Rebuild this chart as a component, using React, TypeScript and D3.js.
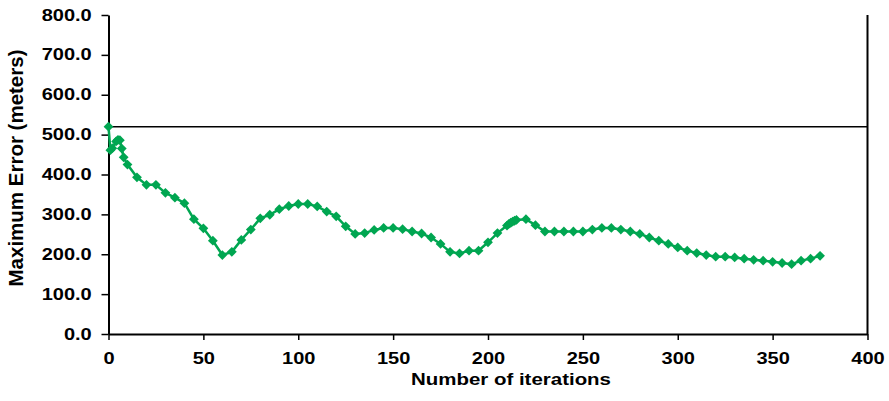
import React, { useRef, useEffect } from "react";
import {
  select,
  line,
  scaleLinear,
  axisLeft,
  axisBottom,
  symbol,
  symbolSquare
} from "d3";

// values
const iterations = [
  0, 1, 2, 4, 5, 6, 7, 8, 10, 15, 20, 25, 30, 35, 40, 45, 50, 55, 60, 65, 70,
  75, 80, 85, 90, 95, 100, 105, 110, 115, 120, 125, 130, 135, 140, 145, 150,
  155, 160, 165, 170, 175, 180, 185, 190, 195, 200, 205, 210, 211, 212, 213,
  214, 215, 220, 225, 230, 235, 240, 245, 250, 255, 260, 265, 270, 275, 280,
  285, 290, 295, 300, 305, 310, 315, 320, 325, 330, 335, 340, 345, 350, 355,
  360, 365, 370, 375
];
const maxError = [
  520, 461, 466, 483, 487, 486, 465, 443, 425, 393, 374, 374, 354, 342, 328,
  288, 265, 234, 198, 206, 236, 262, 290, 299, 313, 321, 326, 326, 320, 307,
  295, 270, 251, 253, 261, 266, 266, 263, 257, 252, 242, 226, 206, 202, 209,
  209, 230, 253, 272, 276, 279, 282, 284, 286, 288, 273, 257, 257, 257, 257,
  257, 262, 266, 266, 262, 257, 251, 242, 234, 226, 217, 209, 203, 198, 194,
  194, 192, 189, 186, 184, 181, 178, 175, 184, 189, 196
];
const yTicks = [0, 100, 200, 300, 400, 500, 600, 700, 800];
const xTicks = [0, 50, 100, 150, 200, 250, 300, 350, 400];
const refValue = 520;

const FONT = "'Liberation Sans', Arial, Helvetica, sans-serif";
const GREEN = "#00a651";

function App() {
  const svgRef = useRef(null);

  useEffect(() => {
    const svg = select(svgRef.current);
    const x = scaleLinear().domain([0, 400]).range([108.5, 867.5]);
    const y = scaleLinear().domain([0, 800]).range([334, 15]);

    const yAxis = axisLeft(y)
      .tickValues(yTicks)
      .tickFormat((d) => d.toFixed(1))
      .tickSize(7)
      .tickSizeOuter(0);
    const gy = svg.select(".y-axis").attr("transform", "translate(108.5,0)").call(yAxis);
    gy.select(".domain").attr("stroke-width", 2).attr("stroke", "#000");
    gy.selectAll(".tick line").attr("stroke-width", 1.5).attr("stroke", "#000");
    gy.selectAll(".tick text")
      .attr("x", -16.8 / 1.25)
      .attr("transform", "scale(1.25,1)")
      .attr("font-family", FONT)
      .attr("font-weight", "bold")
      .attr("font-size", 16)
      .attr("fill", "#000");

    const xAxis = axisBottom(x).tickValues(xTicks).tickSize(6).tickSizeOuter(0);
    const gx = svg.select(".x-axis").attr("transform", "translate(0,334)").call(xAxis);
    gx.select(".domain").attr("stroke-width", 2).attr("stroke", "#000");
    gx.selectAll(".tick line").attr("stroke-width", 1.5).attr("stroke", "#000");
    gx.selectAll(".tick text")
      .attr("y", 18.6)
      .attr("transform", "scale(1.25,1)")
      .attr("font-family", FONT)
      .attr("font-weight", "bold")
      .attr("font-size", 16)
      .attr("fill", "#000");

    // right border and the horizontal reference line
    svg
      .select(".frame")
      .selectAll("line")
      .data([0])
      .join("line")
      .attr("x1", x(400))
      .attr("x2", x(400))
      .attr("y1", y(800))
      .attr("y2", y(0))
      .attr("stroke", "#000")
      .attr("stroke-width", 2);
    svg
      .select(".ref")
      .selectAll("line")
      .data([refValue])
      .join("line")
      .attr("x1", x(0))
      .attr("x2", x(400))
      .attr("y1", (d) => y(d))
      .attr("y2", (d) => y(d))
      .attr("stroke", "#000")
      .attr("stroke-width", 1.5);

    const points = iterations.map((it, i) => [it, maxError[i]]);
    const errLine = line()
      .x((d) => x(d[0]))
      .y((d) => y(d[1]));
    svg
      .selectAll(".series")
      .data([points])
      .join("path")
      .attr("class", "series")
      .attr("d", errLine)
      .attr("fill", "none")
      .attr("stroke", GREEN)
      .attr("stroke-width", 2.5);

    svg
      .select(".markers")
      .selectAll("path")
      .data(points)
      .join("path")
      .attr("d", symbol(symbolSquare, 48))
      .attr("transform", (d) => `translate(${x(d[0])},${y(d[1])}) rotate(45)`)
      .attr("fill", GREEN);
  }, []);

  return (
    <svg
      ref={svgRef}
      width={889}
      height={401}
      style={{ position: "absolute", left: 0, top: 0, background: "#fff" }}
    >
      <g className="ref" />
      <g className="frame" />
      <g className="x-axis" />
      <g className="y-axis" />
      <g className="markers" />
      <g transform="translate(23,168) rotate(-90)">
        <text
          textAnchor="middle"
          fontFamily={FONT}
          fontWeight="bold"
          fontSize={20.5}
        >
          Maximum Error (meters)
        </text>
      </g>
      <g transform="translate(511,385) scale(1.24,1)">
        <text
          textAnchor="middle"
          fontFamily={FONT}
          fontWeight="bold"
          fontSize={16.5}
        >
          Number of iterations
        </text>
      </g>
    </svg>
  );
}

export default App;
